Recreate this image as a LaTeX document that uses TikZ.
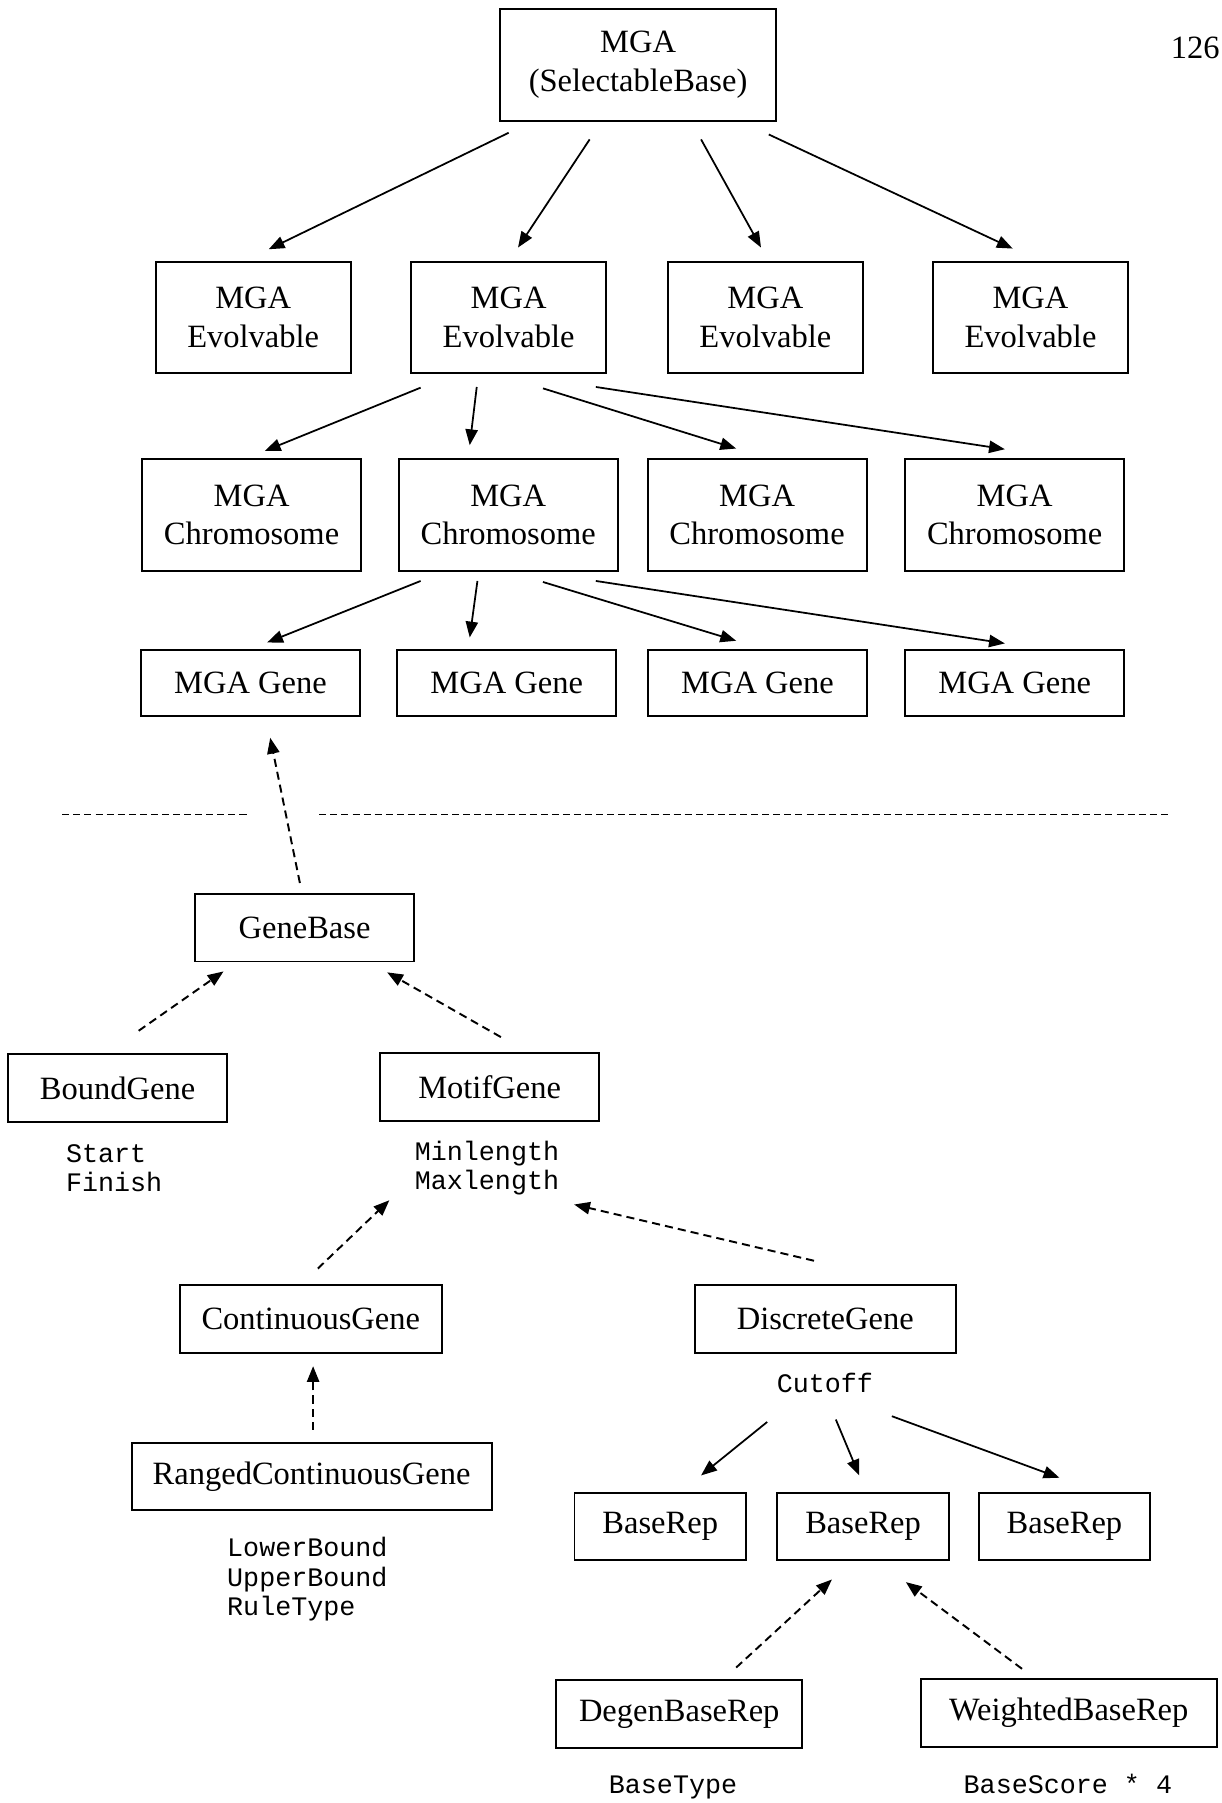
\documentclass[tikz,border=0pt]{standalone}
\usepackage{fontspec}
\setmainfont{Liberation Serif}
\setmonofont{Liberation Mono}
\usepackage{tikz}
\usetikzlibrary{arrows.meta, calc}

\begin{document}
\begin{tikzpicture}[x=0.023cm, y=-0.023cm,
				classbox/.style={draw, line width=1.1pt, inner sep=2pt, align=center,
					font=\fontsize{18.5}{22}\selectfont},
				tallbox/.style={classbox, minimum height=2.23cm},
				flatbox/.style={classbox, minimum height=1.35cm},
				attrtext/.style={align=left, inner sep=0pt,
					font=\ttfamily\fontsize{15.2}{16.6}\selectfont},
				owns/.style={-{Triangle[length=9pt, width=7pt]}, line width=1pt},
				extends/.style={-{Triangle[length=9pt, width=7pt]}, line width=1.1pt,
					dash pattern=on 4.6pt off 2.9pt}]
				\useasboundingbox (0,0) rectangle (1062,1568);
				\node[font=\fontsize{18.5}{22}\selectfont, anchor=east, inner sep=0pt]
				(pagenum) at (1061,41.8) {126};
				%--- Upper part: MGA hierarchy ---
				\node[classbox, minimum width=5.51cm, minimum height=2.24cm]
				(selbase) at (554.9,56.4) {MGA\\(SelectableBase)};
				\node[tallbox, minimum width=3.9cm] (evoA) at (220.2,276.2) {MGA\\Evolvable};
				\node[tallbox, minimum width=3.9cm] (evoB) at (442.3,276.2) {MGA\\Evolvable};
				\node[tallbox, minimum width=3.9cm] (evoC) at (665.6,276.2) {MGA\\Evolvable};
				\node[tallbox, minimum width=3.9cm] (evoD) at (896.2,276.2) {MGA\\Evolvable};
				\node[tallbox, minimum width=4.38cm] (chromA) at (218.8,447.8) {MGA\\Chromosome};
				\node[tallbox, minimum width=4.38cm] (chromB) at (442.0,447.8) {MGA\\Chromosome};
				\node[tallbox, minimum width=4.38cm] (chromC) at (658.4,447.8) {MGA\\Chromosome};
				\node[tallbox, minimum width=4.38cm] (chromD) at (882.4,447.8) {MGA\\Chromosome};
				\node[classbox, minimum width=4.38cm, minimum height=1.32cm] (geneA) at (217.8,594.1) {MGA Gene};
				\node[classbox, minimum width=4.38cm, minimum height=1.32cm] (geneB) at (440.7,594.1) {MGA Gene};
				\node[classbox, minimum width=4.38cm, minimum height=1.32cm] (geneC) at (658.8,594.1) {MGA Gene};
				\node[classbox, minimum width=4.38cm, minimum height=1.32cm] (geneD) at (882.4,594.1) {MGA Gene};
				\draw[owns] ($(selbase.south)+(-112.5,9.5)$) -- ($(evoA.north)+(13.5,-10.1)$);
				\draw[owns] ($(selbase.south)+(-42.1,15.3)$) -- ($(evoB.north)+(8.2,-11.6)$);
				\draw[owns] ($(selbase.south)+(54.8,15.3)$) -- ($(evoC.north)+(-3.8,-11.6)$);
				\draw[owns] ($(selbase.south)+(113.7,11)$) -- ($(evoD.north)+(-15.5,-10.7)$);
				\draw[owns] ($(evoB.south)+(-76.5,11.6)$) -- ($(chromA.north)+(11.5,-6.3)$);
				\draw[owns] ($(evoB.south)+(-27.7,11)$) -- ($(chromB.north)+(-33.5,-11.3)$);
				\draw[owns] ($(evoB.south)+(29.9,12.2)$) -- ($(chromC.north)+(-18.2,-8.4)$);
				\draw[owns] ($(evoB.south)+(75.9,11)$) -- ($(chromD.north)+(-8.5,-7.8)$);
				\draw[owns] ($(chromB.south)+(-76.2,8.1)$) -- ($(geneA.north)+(14.5,-5.8)$);
				\draw[owns] ($(chromB.south)+(-26.8,8.1)$) -- ($(geneB.north)+(-32.2,-10.2)$);
				\draw[owns] ($(chromB.south)+(30.2,9)$) -- ($(geneC.north)+(-18.6,-7.3)$);
				\draw[owns] ($(chromB.south)+(76.2,8.1)$) -- ($(geneD.north)+(-8.5,-5)$);
				% separator
				\draw[line width=1.1pt, dash pattern=on 4pt off 2.3pt] (54.2,708.3) -- (216.8,708.3);
				\draw[line width=1.1pt, dash pattern=on 4pt off 2.3pt] (277.7,708.3) -- (1018.2,708.3);
				%--- Lower part: gene classes ---
				\node[flatbox, minimum width=4.39cm] (genebase) at (264.9,806.8) {GeneBase};
				\node[flatbox, minimum width=4.39cm] (boundgene) at (102.3,946.3) {BoundGene};
				\node[flatbox, minimum width=4.38cm] (motifgene) at (425.8,945.2) {MotifGene};
				\node[attrtext] (boundattr) at (99.3,1015.8) {Start\\Finish};
				\node[attrtext] (motifattr) at (423.5,1015.8) {Minlength\\Maxlength};
				\node[flatbox, minimum width=5.23cm] (contgene) at (270.3,1147.1) {ContinuousGene};
				\node[flatbox, minimum width=5.22cm] (discgene) at (717.7,1146.9) {DiscreteGene};
				\node[flatbox, minimum width=7.2cm] (rangedgene) at (271,1284.1) {RangedContinuousGene};
				\node[attrtext] (rangedattr) at (267.3,1373.4) {LowerBound\\UpperBound\\RuleType};
				\node[attrtext] (discattr) at (717.4,1202.6) {Cutoff};
				\node[flatbox, minimum width=3.43cm] (baserepA) at (574.2,1327.5) {BaseRep};
				\node[flatbox, minimum width=3.43cm] (baserepB) at (750.6,1327.5) {BaseRep};
				\node[flatbox, minimum width=3.43cm] (baserepC) at (925.7,1327.5) {BaseRep};
				\node[flatbox, minimum width=4.92cm] (degenrep) at (590.7,1490.5) {DegenBaseRep};
				\node[flatbox, minimum width=5.92cm] (weightrep) at (929.4,1489.9) {WeightedBaseRep};
				\node[attrtext, anchor=base] (degenattr) at (585.3,1560) {BaseType};
				\node[attrtext, anchor=base] (weightattr) at (928.7,1560) {BaseScore * 4};
				% inheritance (dashed)
				\draw[extends] ($(genebase.north)+(-4.1,-8.7)$) -- ($(geneA.south)+(17.2,18)$);
				\draw[extends] ($(boundgene.north)+(18.3,-19.7)$) -- ($(genebase.south)+(-70.5,7.8)$);
				\draw[extends] ($(motifgene.north)+(9.8,-13.1)$) -- ($(genebase.south)+(71.8,8.6)$);
				\draw[extends] ($(contgene.north)+(6.1,-13.7)$) -- ($(motifattr.center)+(-84.9,28)$);
				\draw[extends] ($(discgene.north)+(-9.8,-20.3)$) -- ($(motifattr.center)+(75.8,31.7)$);
				\draw[extends] ($(rangedgene.north)+(1.3,-10.4)$) -- ($(contgene.south)+(2,10.8)$);
				\draw[extends] ($(degenrep.north)+(49.5,-10.1)$) -- ($(baserepB.south)+(-27.1,15.9)$);
				\draw[extends] ($(weightrep.north)+(-40.6,-8.4)$) -- ($(baserepB.south)+(37.2,18.2)$);
				% containment (solid)
				\draw[owns] ($(discattr.center)+(-50.2,34)$) -- ($(baserepA.north)+(35.5,-14.2)$);
				\draw[owns] ($(discattr.center)+(9.5,31.9)$) -- ($(baserepB.north)+(-3.4,-14.2)$);
				\draw[owns] ($(discattr.center)+(58.2,29)$) -- ($(baserepC.north)+(-4.4,-12.2)$);
			\end{tikzpicture}
\end{document}
